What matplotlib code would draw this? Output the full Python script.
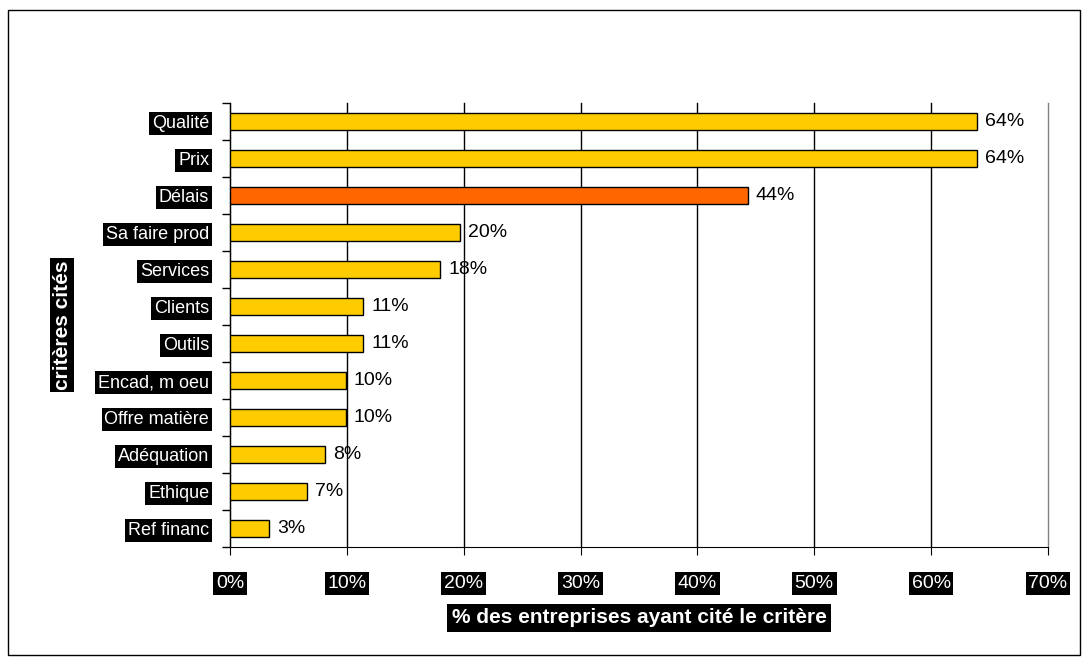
import numpy as np
import matplotlib.pyplot as plt
from matplotlib.patches import Rectangle

plt.rcParams['font.family'] = ['Liberation Sans', 'DejaVu Sans']

criteres = ['Qualité', 'Prix', 'Délais', 'Sa faire prod', 'Services', 'Clients',
            'Outils', 'Encad, m oeu', 'Offre matière', 'Adéquation', 'Ethique', 'Ref financ']
valeurs = [63.9, 63.9, 44.3, 19.7, 18.0, 11.4, 11.4, 9.9, 9.9, 8.1, 6.6, 3.3]
couleurs = ['#FFCC00', '#FFCC00', '#FF6600'] + ['#FFCC00'] * 9
xticks = [0, 10, 20, 30, 40, 50, 60, 70]

fig = plt.figure(figsize=(10.89, 6.65), dpi=100)
ax = fig.add_axes([230 / 1089, 1 - 547 / 665, 818 / 1089, 444 / 665])

# cadre autour de la figure
fig.patches.append(Rectangle((8 / 1089, 10 / 665), 1072 / 1089, 645 / 665,
                             transform=fig.transFigure, fill=False,
                             edgecolor='black', linewidth=1))

y = np.arange(len(criteres))
ax.barh(y, valeurs, height=0.45, color=couleurs, edgecolor='black', linewidth=1, zorder=3)
for yi, v in zip(y, valeurs):
    ax.text(v + 0.7, yi, f'{round(v):d}%', va='center', ha='left', fontsize=14, zorder=4)

ax.set_xlim(0, 70)
ax.set_ylim(len(criteres) - 0.5, -0.5)
ax.set_xticks(xticks)
ax.set_xticklabels([f'{t}%' for t in xticks])
ax.set_yticks(y)
ax.set_yticklabels(criteres)
ax.set_yticks(np.arange(-0.5, len(criteres)), minor=True)

ax.tick_params(axis='y', which='major', length=0, pad=15, labelsize=13,
               labelcolor='white')
ax.tick_params(axis='y', which='minor', length=6, direction='out', width=1)
ax.tick_params(axis='x', length=6, direction='out', pad=14, labelsize=14,
               labelcolor='white')
for lab in ax.get_yticklabels() + ax.get_xticklabels():
    lab.set_bbox(dict(facecolor='black', edgecolor='none', pad=2))

ax.grid(axis='x', color='black', linewidth=1, zorder=0)
for gl in ax.get_xgridlines():
    gl.set_clip_on(False)
ax.get_xgridlines()[-1].set_color('#808080')
for s in ['top', 'right']:
    ax.spines[s].set_visible(False)

ax.set_xlabel('% des entreprises ayant cité le critère', fontsize=15, fontweight='bold',
              color='white', labelpad=12,
              bbox=dict(facecolor='black', edgecolor='none', pad=3))
ax.set_ylabel('critères cités', fontsize=15, fontweight='bold', color='white',
              labelpad=19, bbox=dict(facecolor='black', edgecolor='none', pad=2))

fig.savefig('out.png', dpi=100)
